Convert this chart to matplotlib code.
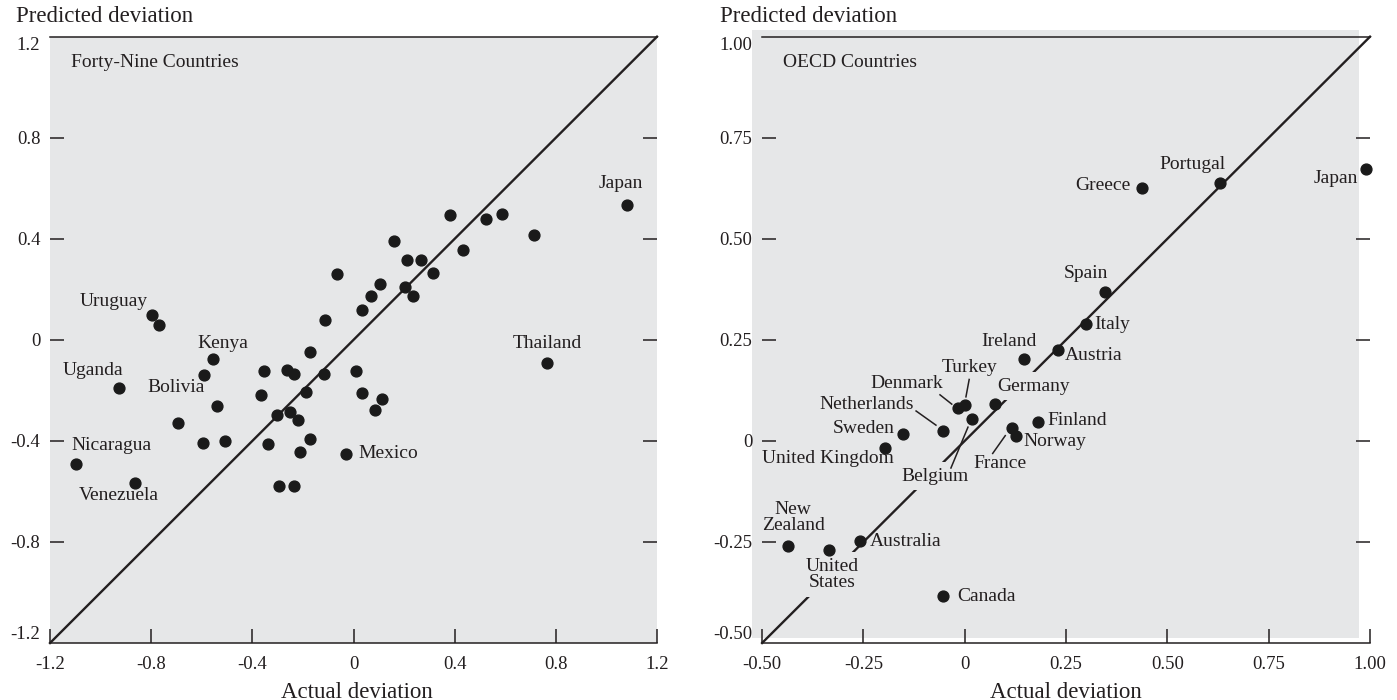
import matplotlib
matplotlib.use("Agg")
import matplotlib.pyplot as plt
from matplotlib.patches import Rectangle

plt.rcParams['font.family'] = ['Liberation Serif', 'DejaVu Serif']

INK = '#231f20'
PANEL = '#e6e7e8'

# --- datos: 49 paises (desvio real vs. predicho) ---
wide_names = ['Uruguay', '', '', '', '', '', '', '', '', '', '', '', '', '', '', '', '', '', 'Japan',
              'Kenya', '', 'Uganda', '', '', '', '', '', '', '', '', '', '', '', 'Bolivia',
              '', '', '', '', '', '', '', '', '', 'Mexico', 'Nicaragua', 'Venezuela', '', '', 'Thailand']
wide_actual = [-0.798, -0.768, -0.112, -0.067, 0.032, 0.071, 0.103, 0.159, 0.202, 0.211, 0.234, 0.267,
               0.315, 0.382, 0.432, 0.522, 0.586, 0.715, 1.080,
               -0.557, -0.593, -0.926, -0.354, -0.262, -0.235, -0.173, -0.115, 0.009, -0.365, -0.188,
               0.032, 0.112, 0.085, -0.538, -0.692, -0.304, -0.250, -0.221, -0.596, -0.508, -0.338,
               -0.173, -0.212, -0.028, -1.097, -0.862, -0.296, -0.235, 0.765]
wide_pred = [0.099, 0.059, 0.079, 0.259, 0.119, 0.173, 0.223, 0.390, 0.208, 0.318, 0.174, 0.318,
             0.265, 0.495, 0.355, 0.480, 0.499, 0.416, 0.534,
             -0.075, -0.139, -0.190, -0.125, -0.119, -0.135, -0.049, -0.136, -0.125, -0.219, -0.208,
             -0.211, -0.236, -0.277, -0.261, -0.331, -0.297, -0.286, -0.318, -0.410, -0.402, -0.412,
             -0.394, -0.443, -0.452, -0.492, -0.565, -0.578, -0.578, -0.091]

# --- datos: paises OCDE ---
oecd_names = ['Greece', 'Portugal', 'Japan', 'Spain', 'Italy', 'Austria', 'Ireland', 'Denmark',
              'Turkey', 'Germany', 'Belgium', 'Netherlands', 'Sweden', 'United Kingdom', 'France',
              'Norway', 'Finland', 'New Zealand', 'United States', 'Australia', 'Canada']
oecd_actual = [0.437, 0.629, 0.991, 0.346, 0.298, 0.231, 0.147, -0.016, 0.001, 0.075, 0.017,
               -0.053, -0.152, -0.196, 0.116, 0.126, 0.181, -0.437, -0.335, -0.258, -0.053]
oecd_pred = [0.625, 0.637, 0.673, 0.369, 0.289, 0.226, 0.203, 0.081, 0.089, 0.091, 0.055,
             0.025, 0.016, -0.018, 0.031, 0.011, 0.047, -0.261, -0.269, -0.247, -0.384]

wide_ticks = [-1.2, -0.8, -0.4, 0, 0.4, 0.8, 1.2]
wide_ticklabels = ['-1.2', '-0.8', '-0.4', '0', '0.4', '0.8', '1.2']
oecd_ticks = [-0.5, -0.25, 0, 0.25, 0.5, 0.75, 1.0]
oecd_ticklabels = ['-0.50', '-0.25', '0', '0.25', '0.50', '0.75', '1.00']

# posiciones de las etiquetas (x, y, ha)
wide_label_pos = {
    'Japan': (1.055, 0.620, 'center'), 'Uruguay': (-0.950, 0.152, 'center'),
    'Kenya': (-0.517, -0.013, 'center'), 'Thailand': (0.766, -0.013, 'center'),
    'Uganda': (-1.030, -0.121, 'center'), 'Bolivia': (-0.703, -0.187, 'center'),
    'Nicaragua': (-0.956, -0.418, 'center'), 'Venezuela': (-0.929, -0.616, 'center'),
    'Mexico': (0.018, -0.449, 'left'),
}
oecd_label_pos = {
    'Greece': (0.409, 0.631, 'right'), 'Portugal': (0.563, 0.684, 'center'),
    'Japan': (0.970, 0.650, 'right'), 'Spain': (0.298, 0.413, 'center'),
    'Italy': (0.319, 0.289, 'left'), 'Austria': (0.247, 0.211, 'left'),
    'Ireland': (0.110, 0.245, 'center'), 'Turkey': (0.011, 0.182, 'center'),
    'Denmark': (-0.143, 0.143, 'center'), 'Germany': (0.170, 0.135, 'center'),
    'Netherlands': (-0.242, 0.090, 'center'), 'Finland': (0.205, 0.051, 'left'),
    'Sweden': (-0.174, 0.030, 'right'), 'Norway': (0.145, -0.002, 'left'),
    'United Kingdom': (-0.337, -0.044, 'center'), 'France': (0.088, -0.056, 'center'),
    'Belgium': (-0.074, -0.087, 'center'), 'New Zealand': (-0.423, -0.190, 'center'),
    'United States': (-0.327, -0.330, 'center'), 'Australia': (-0.234, -0.249, 'left'),
    'Canada': (-0.019, -0.386, 'left'),
}
oecd_leaders = {
    'Denmark': ((-0.061, 0.114), (-0.032, 0.091)),
    'Turkey': ((0.011, 0.152), (0.003, 0.109)),
    'Netherlands': ((-0.120, 0.074), (-0.071, 0.039)),
    'France': ((0.069, -0.031), (0.100, 0.013)),
    'Belgium': ((-0.034, -0.067), (0.008, 0.034)),
}
masked = ['Germany', 'Belgium', 'United States']
two_lines = {'New Zealand': 'New\nZealand', 'United States': 'United\nStates'}

fig = plt.figure(figsize=(13.97, 7.0), dpi=100)
ax1 = fig.add_axes([0.0358, 0.0814, 0.4345, 0.8662])
ax2 = fig.add_axes([0.5455, 0.0814, 0.4352, 0.8662])


def base_axes(ax, ticks, ticklabels, title):
    lo, hi = ticks[0], ticks[-1]
    ax.set_xlim(lo, hi)
    ax.set_ylim(lo, hi)
    for s in ['left', 'right']:
        ax.spines[s].set_visible(False)
    for s in ['top', 'bottom']:
        ax.spines[s].set_color(INK)
        ax.spines[s].set_linewidth(1.1)
    ax.set_xticks(ticks)
    ax.set_xticklabels(ticklabels)
    ax.set_yticks(ticks)
    ax.set_yticklabels(ticklabels)
    ax.tick_params(axis='x', direction='in', length=10, width=1.1, color=INK,
                   labelsize=13.5, labelcolor=INK, pad=9)
    ax.tick_params(axis='y', direction='in', length=10, width=1.1, color=INK, right=True,
                   labelsize=13.5, labelcolor=INK, pad=7)
    yt = ax.yaxis.get_major_ticks()
    for t in (yt[0], yt[-1]):
        t.tick1line.set_visible(False)
        t.tick2line.set_visible(False)
    ylabs = ax.get_yticklabels()
    ylabs[0].set_va('bottom')
    ylabs[-1].set_va('top')
    ax.plot([lo, hi], [lo, hi], color=INK, lw=1.7, zorder=2, clip_on=False)
    ax.text(0.034, 0.957, title, transform=ax.transAxes, fontsize=14, color=INK,
            ha='left', va='center')


# --- panel izquierdo ---
base_axes(ax1, wide_ticks, wide_ticklabels, 'Forty-Nine Countries')
ax1.set_facecolor(PANEL)
ax1.plot(wide_actual, wide_pred, 'o', color='#1a1a1a', ms=7.8, zorder=4, clip_on=False)
for name in wide_names:
    if name:
        x, y, ha = wide_label_pos[name]
        ax1.text(x, y, name, fontsize=14, color=INK, ha=ha, va='center', zorder=5)

# --- panel derecho ---
ax2.set_facecolor('none')
ax2.add_patch(Rectangle((-0.0164, 0.008), 0.9984, 1.0036, transform=ax2.transAxes,
                        facecolor=PANEL, edgecolor='none', zorder=0, clip_on=False))
base_axes(ax2, oecd_ticks, oecd_ticklabels, 'OECD Countries')
ax2.plot(oecd_actual, oecd_pred, 'o', color='#1a1a1a', ms=7.8, zorder=4, clip_on=False)
for name in oecd_names:
    x, y, ha = oecd_label_pos[name]
    box = dict(facecolor=PANEL, edgecolor='none', pad=4) if name in masked else None
    ax2.text(x, y, two_lines.get(name, name), fontsize=14, color=INK, ha=ha, va='center',
             linespacing=0.95, multialignment='center', bbox=box, zorder=3)
for name, (p0, p1) in oecd_leaders.items():
    ax2.plot([p0[0], p1[0]], [p0[1], p1[1]], color=INK, lw=1.1, zorder=3)

# --- titulos de ejes ---
for xl, xc in [(16, 357), (720, 1066)]:
    fig.text(xl / 1397, 1 - 17 / 700, 'Predicted deviation', fontsize=16.5, color=INK,
             ha='left', va='center')
    fig.text(xc / 1397, 1 - 692 / 700, 'Actual deviation', fontsize=16.5, color=INK,
             ha='center', va='center')

fig.savefig('out.png', dpi=100)
